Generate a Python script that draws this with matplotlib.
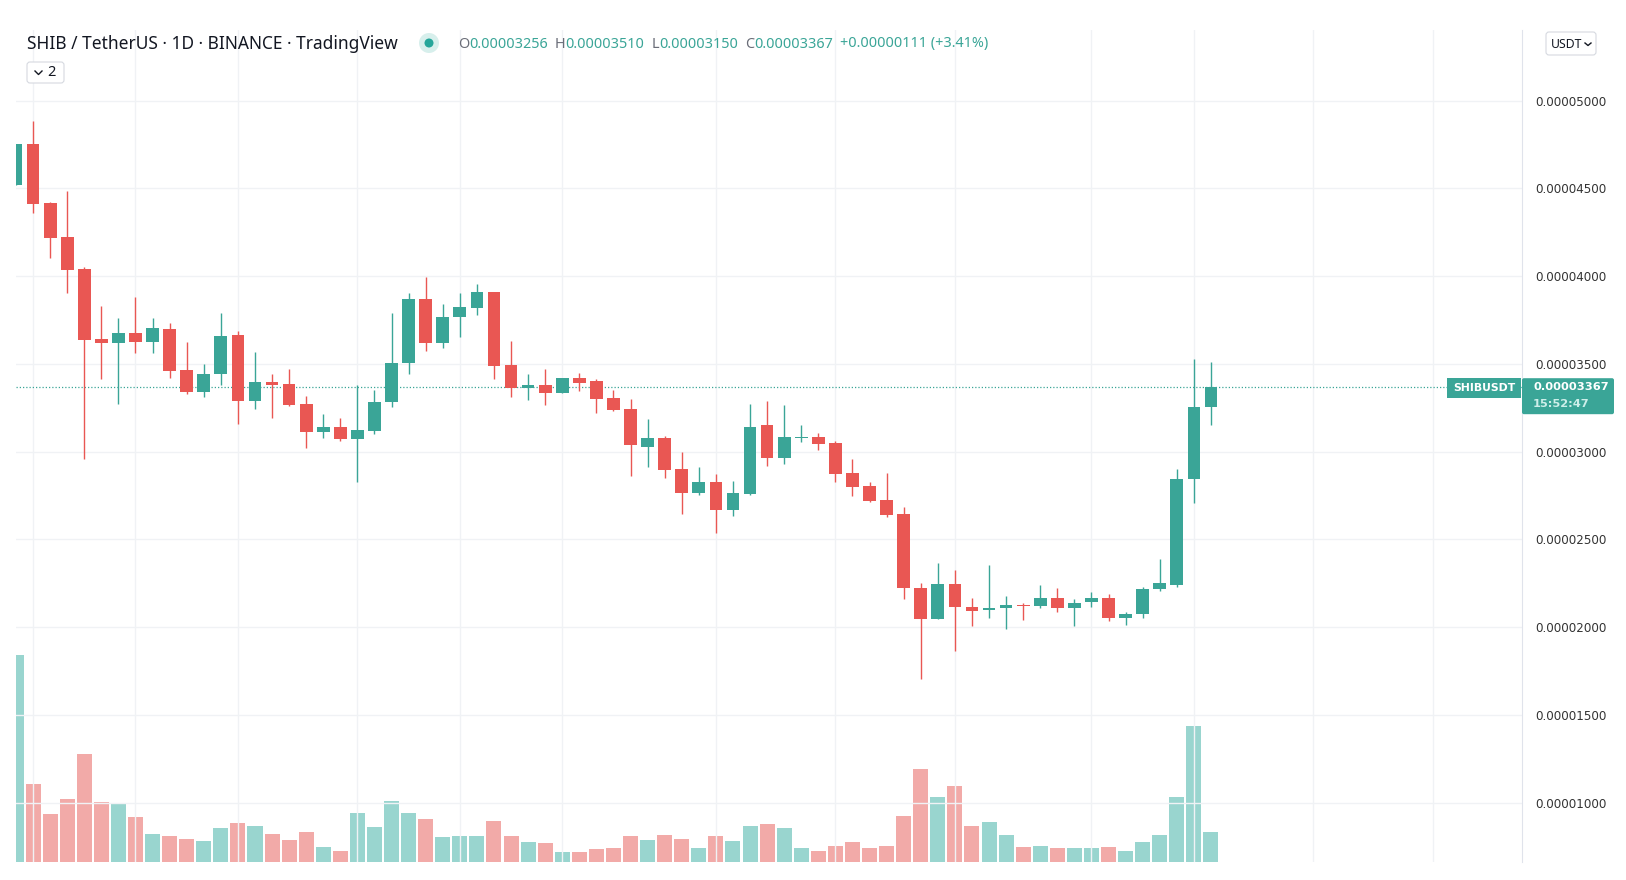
import numpy as np
import matplotlib
matplotlib.use("Agg")
import matplotlib.pyplot as plt
from matplotlib.patches import FancyBboxPatch, Ellipse, Rectangle

# SHIB/USDT daily candles, prices in 1e-8 USDT
opens = [4519, 4751, 4418, 4222, 4040, 3641, 3616, 3675, 3622, 3696,
         3466, 3339, 3440, 3662, 3286, 3398, 3385, 3271, 3109, 3141,
         3069, 3117, 3280, 3502, 3871, 3617, 3765, 3820, 3911, 3493,
         3364, 3377, 3332, 3421, 3400, 3303, 3242, 3028, 3075, 2899,
         2766, 2824, 2665, 2758, 3150, 2961, 3076, 3081, 3047, 2880,
         2806, 2724, 2644, 2224, 2046, 2245, 2116, 2099, 2107, 2126,
         2120, 2163, 2107, 2141, 2163, 2052, 2072, 2215, 2241, 2844,
         3256]
highs = [4751, 4884, 4420, 4487, 4053, 3829, 3763, 3879, 3763, 3730,
         3622, 3499, 3791, 3690, 3567, 3440, 3468, 3318, 3217, 3189,
         3379, 3350, 3791, 3905, 3993, 3839, 3905, 3953, 3911, 3630,
         3440, 3469, 3421, 3446, 3413, 3351, 3298, 3183, 3089, 2995,
         2914, 2872, 2832, 3271, 3290, 3265, 3151, 3104, 3062, 2956,
         2825, 2880, 2682, 2253, 2367, 2325, 2164, 2354, 2179, 2139,
         2240, 2221, 2158, 2198, 2186, 2084, 2230, 2386, 2899, 3528,
         3510]
lows = [4519, 4357, 4101, 3905, 2955, 3415, 3272, 3563, 3563, 3421,
        3331, 3312, 3379, 3157, 3244, 3189, 3262, 3022, 3077, 3062,
        2828, 3098, 3252, 3442, 3575, 3588, 3655, 3778, 3413, 3313,
        3292, 3265, 3332, 3347, 3218, 3231, 2861, 2914, 2847, 2644,
        2752, 2538, 2633, 2752, 2920, 2927, 3056, 3009, 2828, 2747,
        2713, 2625, 2160, 1702, 2046, 1863, 2006, 2050, 1992, 2040,
        2110, 2088, 2006, 2112, 2034, 2012, 2053, 2207, 2226, 2705,
        3150]
closes = [4751, 4411, 4219, 4034, 3637, 3616, 3675, 3622, 3702, 3461,
          3339, 3445, 3656, 3286, 3398, 3379, 3265, 3109, 3141, 3069,
          3122, 3284, 3506, 3871, 3617, 3769, 3824, 3911, 3487, 3364,
          3377, 3332, 3421, 3392, 3299, 3237, 3037, 3075, 2895, 2766,
          2824, 2665, 2766, 3142, 2961, 3081, 3081, 3043, 2874, 2800,
          2718, 2638, 2220, 2046, 2245, 2112, 2093, 2110, 2124, 2118,
          2163, 2107, 2139, 2163, 2050, 2076, 2219, 2253, 2846, 3256,
          3367]
# volume, relative units
volume = [620, 233, 145, 190, 325, 180, 173, 134, 85, 77,
          70, 64, 102, 116, 109, 85, 67, 91, 45, 34,
          148, 106, 184, 148, 130, 74, 77, 77, 124, 77,
          60, 56, 31, 31, 38, 42, 77, 67, 81, 70,
          42, 77, 64, 109, 113, 102, 42, 34, 49, 60,
          42, 49, 138, 280, 195, 227, 109, 120, 81, 45,
          49, 42, 42, 42, 45, 34, 60, 81, 195, 407,
          91]
price_ticks = [1000, 1500, 2000, 2500, 3000, 3500, 4000, 4500, 5000]
time_grid = [1, 7, 13, 20, 26, 32, 41, 48, 55, 63, 69, 76, 83]
last_price = 3367
ohlc_parts = [("O", "0.00003256"), ("H", "0.00003510"), ("L", "0.00003150"),
              ("C", "0.00003367"), ("", "+0.00000111 (+3.41%)")]

UP = "#3aa597"
DOWN = "#e95753"
UP_VOL = "#99d5cf"
DOWN_VOL = "#f2aaa8"
GRID = "#f0f2f5"
TEXT = "#131722"

W, H = 1626, 880
fig = plt.figure(figsize=(W / 100, H / 100), dpi=100)

# plot area in pixels
left, right, top, bottom = 16, 1522, 30, 862
rect = [left / W, 1 - bottom / H, (right - left) / W, (bottom - top) / H]

scale = 1e-8
o = np.array(opens) * scale
h = np.array(highs) * scale
l = np.array(lows) * scale
c = np.array(closes) * scale
x = np.arange(len(opens))
up = c >= o

# volume pane (behind)
vax = fig.add_axes(rect)
vax.bar(x, volume, width=0.88, color=np.where(up, UP_VOL, DOWN_VOL), linewidth=0)
vax.set_xlim(0, 88.22)
vax.set_ylim(0, 2493)
vax.axis("off")

# price pane
ax = fig.add_axes(rect)
ax.patch.set_visible(False)
ax.set_xlim(0, 88.22)
ax.set_ylim(661.5 * scale, 5402.3 * scale)
cols = np.where(up, UP, DOWN)
ax.vlines(x, l, h, colors=cols, linewidth=1.0, zorder=2)
body = np.maximum(np.abs(c - o), 8 * scale)
ax.bar(x, body, bottom=np.minimum(o, c), width=0.745, color=cols, linewidth=0, zorder=3)
ax.axhline(last_price * scale, color=UP, linewidth=0.9, linestyle=(0, (1, 1.6)), zorder=1)

ax.set_xticks(time_grid)
ax.yaxis.tick_right()
ax.set_yticks(np.array(price_ticks) * scale)
ax.set_yticklabels([f"{v * scale:.8f}" for v in price_ticks])
ax.tick_params(axis="x", length=0, labelbottom=False)
ax.tick_params(axis="y", length=0, pad=9.4, labelsize=8.6, labelcolor="#333333")
ax.grid(True, color=GRID, linewidth=1.0, zorder=0)
ax.set_axisbelow(True)
for s in ["left", "top", "bottom"]:
    ax.spines[s].set_visible(False)
ax.spines["right"].set_color("#e0e3eb")
ax.spines["right"].set_linewidth(0.8)

# overlay in pixel coordinates for the header and labels
ov = fig.add_axes([0, 0, 1, 1])
ov.set_xlim(0, W)
ov.set_ylim(H, 0)
ov.axis("off")
ov.patch.set_visible(False)

ov.text(27, 44, "SHIB / TetherUS · 1D · BINANCE · TradingView", fontsize=12.5,
        family="Noto Sans", color=TEXT, va="center", ha="left")
ov.add_patch(Ellipse((429, 43), 20, 20, color="#d7efec", linewidth=0))
ov.add_patch(Ellipse((429, 43), 9, 9, color="#26a69a", linewidth=0))

renderer = fig.canvas.get_renderer()
xpos = 458
for key, val in ohlc_parts:
    if key:
        t = ov.text(xpos, 44, key, fontsize=10.4, family="Noto Sans", color="#6a6d78",
                    va="center", ha="left")
        xpos += t.get_window_extent(renderer=renderer).width
    t = ov.text(xpos, 44, val, fontsize=10.4, family="Noto Sans", color=UP,
                va="center", ha="left")
    xpos += t.get_window_extent(renderer=renderer).width + 7

# collapse button
ov.add_patch(FancyBboxPatch((27, 62), 37, 21, boxstyle="round,pad=0,rounding_size=3",
                            facecolor="white", edgecolor="#d6d9e0", linewidth=0.8))
ov.plot([35, 38.5, 42], [71, 74.5, 71], color=TEXT, linewidth=1.0)
ov.text(51, 73, "2", fontsize=10.5, family="Noto Sans", color=TEXT, va="center", ha="center")

# currency button
ov.add_patch(FancyBboxPatch((1546, 32), 50, 23, boxstyle="round,pad=0,rounding_size=3",
                            facecolor="white", edgecolor="#d6d9e0", linewidth=0.8))
ov.text(1551, 44, "USDT", fontsize=8.8, family="Noto Sans", color=TEXT, va="center", ha="left")
ov.plot([1585, 1588, 1591], [43, 45.5, 43], color=TEXT, linewidth=1.0)

# last price labels
y_last = H - ax.transData.transform((0, last_price * scale))[1]
ov.add_patch(Rectangle((1447, y_last - 9), 74, 20, color=UP, linewidth=0))
ov.text(1484, y_last + 1, "SHIBUSDT", fontsize=7.8, fontweight="bold", color="white",
        va="center", ha="center")
ov.add_patch(FancyBboxPatch((1522, y_last - 9), 92, 36, boxstyle="round,pad=0,rounding_size=2",
                            facecolor=UP, edgecolor="none"))
ov.text(1533, y_last, f"{last_price * scale:.8f}", fontsize=8.2, fontweight="bold",
        color="white", va="center", ha="left")
ov.text(1533, y_last + 17, "15:52:47", fontsize=8.2, fontweight="bold",
        color="#cdeee9", va="center", ha="left")

fig.savefig("out.png", dpi=100)
